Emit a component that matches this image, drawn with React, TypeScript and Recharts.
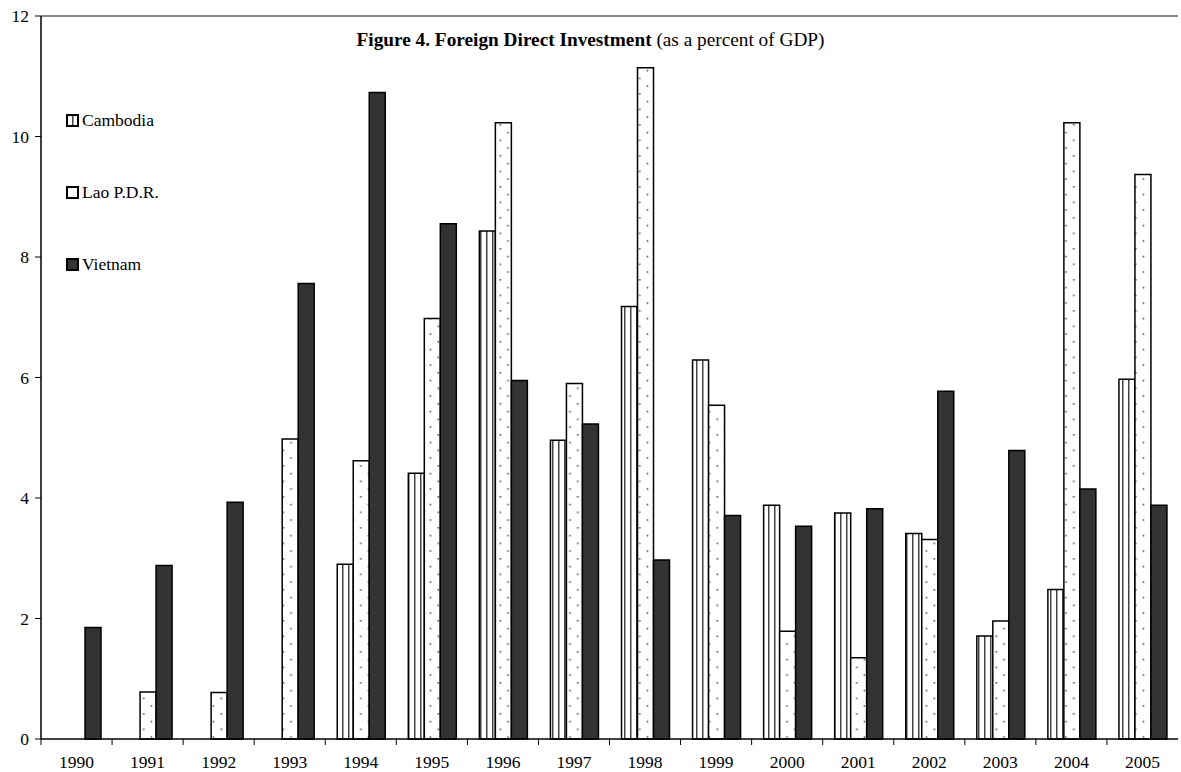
import React from 'react';
import { BarChart, Bar, XAxis, YAxis, ReferenceLine, Legend } from 'recharts';

const years = ['1990', '1991', '1992', '1993', '1994', '1995', '1996', '1997', '1998', '1999', '2000', '2001', '2002', '2003', '2004', '2005'];
const cambodia = [null, null, null, null, 2.9, 4.41, 8.43, 4.96, 7.18, 6.29, 3.88, 3.75, 3.41, 1.71, 2.48, 5.97];
const lao = [null, 0.78, 0.77, 4.98, 4.62, 6.98, 10.23, 5.9, 11.14, 5.54, 1.79, 1.35, 3.31, 1.96, 10.23, 9.37];
const vietnam = [1.85, 2.88, 3.93, 7.56, 10.73, 8.55, 5.95, 5.23, 2.97, 3.71, 3.53, 3.82, 5.77, 4.79, 4.15, 3.88];
const yTicks = [0, 2, 4, 6, 8, 10, 12];

const data = years.map((year, i) => ({
  year,
  cambodia: cambodia[i],
  lao: lao[i],
  vietnam: vietnam[i],
}));

const FONT = '"Liberation Serif", "Times New Roman", serif';
const X_TICK_MARGIN = 17;

const fills: Record<string, string> = {
  cambodia: 'url(#stripes)',
  lao: 'url(#dots)',
  vietnam: '#333333',
};

// labels under each year, with the small tick mark on the left edge of the band
function YearTick(props: any) {
  const { x, y, payload } = props;
  const half = payload && payload.offset != null ? payload.offset : 0;
  const axisY = y - X_TICK_MARGIN;
  return (
    <g>
      <line x1={x - half} x2={x - half} y1={axisY} y2={axisY + 6} stroke="#000" strokeWidth={1} />
      <text x={x} y={y} dy="0.71em" textAnchor="middle" fill="#000" fontSize={17.5} fontFamily={FONT}>
        {payload.value}
      </text>
    </g>
  );
}

function SideLegend(props: any) {
  const { payload } = props;
  if (!payload) return null;
  return (
    <div style={{ fontFamily: FONT, fontSize: 17.5, color: '#000' }}>
      {payload.map((entry: any) => (
        <div key={entry.value} style={{ display: 'flex', alignItems: 'center', height: 24, marginBottom: 48 }}>
          <svg width={13} height={13} style={{ marginRight: 3 }}>
            <rect x={1} y={1} width={11} height={11} fill={fills[entry.dataKey]} stroke="#000" strokeWidth={2} />
          </svg>
          <span>{entry.value}</span>
        </div>
      ))}
    </div>
  );
}

export default function App() {
  return (
    <div style={{ position: 'absolute', left: 0, top: 0, width: 1181, height: 772, background: '#fff' }}>
      <svg width={0} height={0} style={{ position: 'absolute' }}>
        <defs>
          <pattern id="stripes" patternUnits="userSpaceOnUse" width={6} height={6}>
            <rect width={6} height={6} fill="#fff" />
            <rect x={0} y={0} width={1.5} height={6} fill="#444" />
          </pattern>
          <pattern id="dots" patternUnits="userSpaceOnUse" width={15.5} height={15.5}>
            <rect width={15.5} height={15.5} fill="#fff" />
            <rect x={3.5} y={0} width={1.6} height={1.6} fill="#555" />
            <rect x={11.2} y={7.75} width={1.6} height={1.6} fill="#555" />
          </pattern>
        </defs>
      </svg>
      <div
        style={{
          position: 'absolute',
          left: 0,
          width: 1181,
          top: 29,
          textAlign: 'center',
          fontFamily: FONT,
          fontSize: 19.3,
          color: '#000',
          zIndex: 2,
        }}
      >
        <b>Figure 4. Foreign Direct Investment</b> (as a percent of GDP)
      </div>
      <BarChart
        width={1181}
        height={772}
        data={data}
        margin={{ top: 16, right: 3, bottom: 0, left: 0 }}
        barSize={16}
        barGap={0}
      >
        <XAxis
          dataKey="year"
          height={33}
          axisLine={{ stroke: '#000', strokeWidth: 1.5 }}
          tickLine={false}
          tickSize={0}
          tickMargin={X_TICK_MARGIN}
          tick={<YearTick />}
          interval={0}
        />
        <YAxis
          domain={[0, 12]}
          ticks={yTicks}
          width={41}
          axisLine={{ stroke: '#000', strokeWidth: 1.5 }}
          tickLine={{ stroke: '#000' }}
          tickSize={6}
          tickMargin={6}
          tick={{ fill: '#000', fontSize: 17.5, fontFamily: FONT }}
          interval={0}
        />
        <YAxis
          yAxisId="r"
          orientation="right"
          width={0}
          tick={false}
          tickLine={false}
          axisLine={{ stroke: '#888', strokeWidth: 2 }}
        />
        <ReferenceLine y={12} stroke="#888" strokeWidth={2} />
        <Legend
          layout="vertical"
          align="center"
          verticalAlign="middle"
          wrapperStyle={{ left: 66, top: 108, width: 200 }}
          content={<SideLegend />}
        />
        <Bar dataKey="cambodia" name="Cambodia" fill="url(#stripes)" stroke="#000" strokeWidth={1.5} isAnimationActive={false} />
        <Bar dataKey="lao" name="Lao P.D.R." fill="url(#dots)" stroke="#000" strokeWidth={1.5} isAnimationActive={false} />
        <Bar dataKey="vietnam" name="Vietnam" fill="#333333" stroke="#000" strokeWidth={1.5} isAnimationActive={false} />
      </BarChart>
    </div>
  );
}
